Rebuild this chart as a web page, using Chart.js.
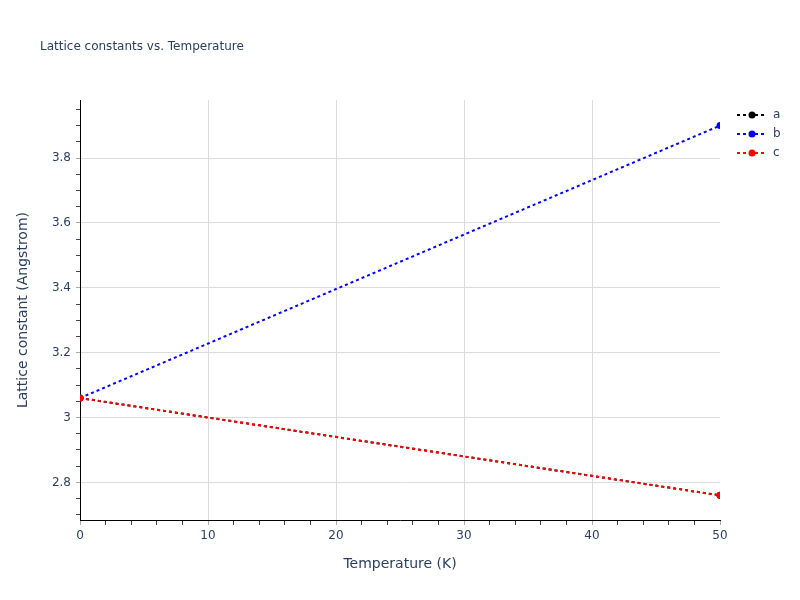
<!DOCTYPE html>
<html>
<head>
<meta charset="utf-8">
<title>Lattice constants vs. Temperature</title>
<script src="https://cdn.jsdelivr.net/npm/chart.js@4"></script>
<style>
  html, body { margin: 0; padding: 0; background: #fff; }
  #chart { display: block; }
</style>
</head>
<body>
<canvas id="chart" width="800" height="600"></canvas>
<script>
// data
const temperatures = [0, 50];
const latticeA = [3.06, 2.76];
const latticeB = [3.06, 3.90];
const latticeC = [3.06, 2.76];

const seriesNames = ["a", "b", "c"];
const seriesColors = ["#000000", "#0000ff", "#ff0000"];

const xMajorTicks = [0, 10, 20, 30, 40, 50];
const yMajorTicks = [2.8, 3.0, 3.2, 3.4, 3.6, 3.8];

const chartTitle = "Lattice constants vs. Temperature";
const xTitle = "Temperature (K)";
const yTitle = "Lattice constant (Angstrom)";

const FONT = "'DejaVu Sans', Verdana, Arial, sans-serif";
const TEXT_COLOR = "#2a3f5f";
const GRID_COLOR = "#dcdcdc";

function isMajor(v, list) {
  return list.some((m) => Math.abs(m - v) < 1e-6);
}

function minorTicks(min, max, step) {
  const out = [];
  for (let v = min; v <= max + 1e-9; v += step) {
    out.push({ value: Math.round(v * 1000) / 1000 });
  }
  return out;
}

// title, axis titles and the legend are painted by hand
const overlayPlugin = {
  id: "overlay",
  afterDraw(chart) {
    const ctx = chart.ctx;
    const area = chart.chartArea;
    ctx.save();
    ctx.fillStyle = TEXT_COLOR;
    ctx.textBaseline = "middle";

    ctx.font = "12px " + FONT;
    ctx.textAlign = "left";
    ctx.fillText(chartTitle, 40, 47);

    ctx.font = "14px " + FONT;
    ctx.textAlign = "center";
    ctx.fillText(xTitle, (area.left + area.right) / 2, 564);

    ctx.translate(23, (area.top + area.bottom) / 2);
    ctx.rotate(-Math.PI / 2);
    ctx.fillText(yTitle, 0, 0);
    ctx.restore();

    ctx.save();
    ctx.font = "12px " + FONT;
    ctx.textBaseline = "middle";
    ctx.textAlign = "left";
    seriesNames.forEach((name, i) => {
      const y = 115 + i * 19;
      ctx.strokeStyle = seriesColors[i];
      ctx.lineWidth = 2;
      ctx.setLineDash([3, 3]);
      ctx.beginPath();
      ctx.moveTo(737, y);
      ctx.lineTo(767, y);
      ctx.stroke();
      ctx.setLineDash([]);
      ctx.fillStyle = seriesColors[i];
      ctx.beginPath();
      ctx.arc(752, y, 3.5, 0, Math.PI * 2);
      ctx.fill();
      ctx.fillStyle = TEXT_COLOR;
      ctx.fillText(name, 773, y);
    });
    ctx.restore();
  },
};

function makeDataset(label, values, color, order) {
  return {
    label: label,
    data: values,
    borderColor: color,
    backgroundColor: color,
    borderWidth: 2,
    borderDash: [3, 3],
    pointRadius: 3.5,
    pointHoverRadius: 3.5,
    pointBorderWidth: 0,
    tension: 0,
    clip: 0,
    order: order,
  };
}

new Chart(document.getElementById("chart"), {
  type: "line",
  data: {
    labels: temperatures,
    datasets: [
      makeDataset(seriesNames[0], latticeA, seriesColors[0], 3),
      makeDataset(seriesNames[1], latticeB, seriesColors[1], 2),
      makeDataset(seriesNames[2], latticeC, seriesColors[2], 1),
    ],
  },
  options: {
    responsive: false,
    animation: false,
    layout: { padding: { left: 0, top: 100, right: 80, bottom: 0 } },
    plugins: {
      legend: { display: false },
      title: { display: false },
      tooltip: { enabled: false },
    },
    scales: {
      x: {
        type: "linear",
        min: 0,
        max: 50,
        afterBuildTicks: (scale) => { scale.ticks = minorTicks(0, 50, 2); },
        afterFit: (scale) => { scale.height = 80; },
        border: { display: true, color: "#000", width: 1 },
        grid: {
          drawTicks: true,
          tickLength: 5,
          color: (c) => {
            const v = c.tick ? c.tick.value : null;
            return v !== null && v > 0 && v < 50 && isMajor(v, xMajorTicks) ? GRID_COLOR : "rgba(0,0,0,0)";
          },
          tickColor: (c) => (c.tick && isMajor(c.tick.value, xMajorTicks) ? "#aaaaaa" : "#444444"),
        },
        ticks: {
          autoSkip: false,
          maxRotation: 0,
          padding: 4,
          color: TEXT_COLOR,
          font: { family: FONT, size: 12 },
          callback: (v) => (isMajor(v, xMajorTicks) ? String(v) : ""),
        },
      },
      y: {
        type: "linear",
        min: 2.684,
        max: 3.979,
        afterBuildTicks: (scale) => { scale.ticks = minorTicks(2.7, 3.95, 0.05); },
        afterFit: (scale) => { scale.width = 80; },
        border: { display: true, color: "#000", width: 1 },
        grid: {
          drawTicks: true,
          tickLength: 4,
          color: (c) => (c.tick && isMajor(c.tick.value, yMajorTicks) ? GRID_COLOR : "rgba(0,0,0,0)"),
          tickColor: (c) => (c.tick && isMajor(c.tick.value, yMajorTicks) ? "#aaaaaa" : "#444444"),
        },
        ticks: {
          autoSkip: false,
          padding: 5,
          color: TEXT_COLOR,
          font: { family: FONT, size: 12 },
          callback: (v) => (isMajor(v, yMajorTicks) ? String(Number(v.toFixed(1))) : ""),
        },
      },
    },
  },
  plugins: [overlayPlugin],
});
</script>
</body>
</html>
